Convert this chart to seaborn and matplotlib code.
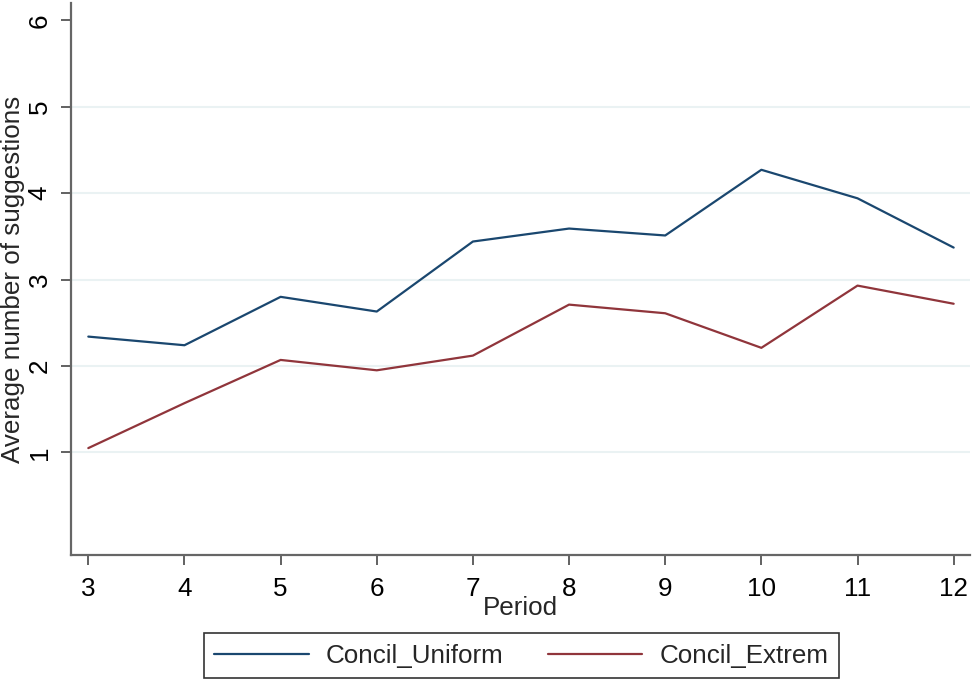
import matplotlib
matplotlib.use("Agg")
import matplotlib.pyplot as plt
import pandas as pd
import seaborn as sns

# =========================
# data
# =========================
periods = [3, 4, 5, 6, 7, 8, 9, 10, 11, 12]
concil_uniform = [2.34, 2.24, 2.80, 2.63, 3.44, 3.59, 3.51, 4.27, 3.94, 3.37]
concil_extrem = [1.05, 1.57, 2.07, 1.95, 2.12, 2.71, 2.61, 2.21, 2.93, 2.72]
series_names = ["Concil_Uniform", "Concil_Extrem"]
y_ticks = [1, 2, 3, 4, 5, 6]

colors = {"Concil_Uniform": "#1a476f", "Concil_Extrem": "#90353b"}
FS = 18.7

df = pd.DataFrame({
    "period": periods * 2,
    "value": concil_uniform + concil_extrem,
    "group": [series_names[0]] * len(periods) + [series_names[1]] * len(periods),
})

sns.set_theme(style="white")
plt.rcParams["font.family"] = ["Liberation Sans", "DejaVu Sans"]

fig = plt.figure(figsize=(9.74, 6.91), dpi=100)
ax = fig.add_axes([0.0729, 0.1968, 0.923, 0.7989])

sns.lineplot(data=df, x="period", y="value", hue="group", hue_order=series_names,
             palette=colors, linewidth=1.6, ax=ax, legend=False)

ax.set_xlim(2.82, 12.17)
ax.set_ylim(-0.187, 6.2)
ax.set_xticks(periods)
ax.set_yticks(y_ticks)

# light grid lines (none at the top tick)
for t in y_ticks[:-1]:
    ax.axhline(t, color="#eaf2f3", lw=1.5, zorder=0)

for side in ["top", "right"]:
    ax.spines[side].set_visible(False)
for side in ["left", "bottom"]:
    ax.spines[side].set_color("#666666")
    ax.spines[side].set_linewidth(1.6)

ax.tick_params(axis="both", bottom=True, left=True, direction="out", length=7,
               width=1.3, color="#555555", labelsize=FS, labelcolor="black")
ax.tick_params(axis="x", pad=9)
ax.tick_params(axis="y", pad=7)
for lab in ax.get_yticklabels():
    lab.set_rotation(90)
    lab.set_va("center")

ax.set_xlabel("Period", fontsize=FS, labelpad=-4)
ax.set_ylabel("Average number of suggestions", fontsize=FS, va="center")
ax.yaxis.set_label_coords(-0.065, 0.5)

handles = [plt.Line2D([], [], color=colors[n], lw=1.6) for n in series_names]
leg = fig.legend(handles, series_names, ncol=2, loc="lower center",
                 bbox_to_anchor=(0.535, 0.0), fontsize=FS, frameon=True,
                 fancybox=False, edgecolor="black", handlelength=3.65,
                 columnspacing=1.7, handletextpad=0.65, borderpad=0.4)
leg.get_frame().set_linewidth(1.2)

fig.savefig("out.png", dpi=100)
